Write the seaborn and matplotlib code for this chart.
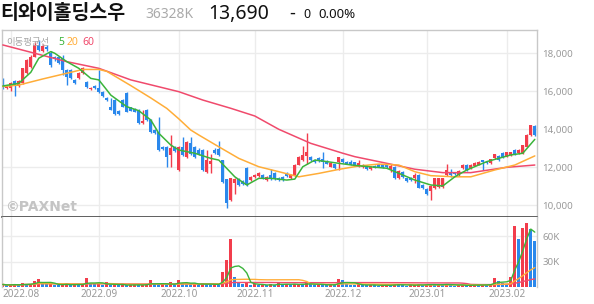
import numpy as np
import pandas as pd
import matplotlib
matplotlib.use("Agg")
import matplotlib.pyplot as plt
import seaborn as sns

sns.set_theme(style="white")
plt.rcParams['font.family'] = ['Noto Sans', 'Noto Sans CJK KR', 'DejaVu Sans']

# ---------------- data ----------------
stock_name = "티와이홀딩스우"
volume_text = "36328K"
last_price = "13,690"
change_text = "0"
change_pct = "0.00%"
ma_title = "이동평균선"
ma_labels = ["5", "20", "60"]

holidays = ["2022-08-15", "2022-09-09", "2022-09-12", "2022-10-03", "2022-10-10",
            "2022-12-30", "2023-01-23", "2023-01-24"]
dates = pd.bdate_range("2022-07-28", "2023-02-10")
dates = dates[~dates.isin(pd.to_datetime(holidays))]

opens = [16600, 16160, 16200, 16550, 16300, 16420, 16950, 17300, 17820, 18440,
         18100, 18350, 18000, 17800, 17800, 17740, 17120, 17120, 16600, 16700,
         16960, 16500, 16100, 16300, 16180, 15950, 15650, 15190, 15540, 14950,
         15540, 15900, 15150, 15080, 15020, 14350, 15020, 14490, 13960, 13880,
         13080, 13050, 12650, 13050, 11860, 13080, 12560, 13300, 13080, 12900,
         12910, 11770, 12200, 12900, 12950, 12380, 11380, 10280, 11160, 11380,
         11300, 11980, 11330, 11480, 11540, 11600, 11330, 11620, 11680, 11460,
         11500, 11720, 11440, 11600, 12120, 12380, 12600, 12560, 12380, 12500,
         12450, 12350, 12030, 12150, 12300, 12450, 12300, 12280, 12280, 12030,
         12000, 12070, 11900, 12050, 12150, 12180, 12100, 11900, 12030, 11420,
         11770, 11420, 11450, 11420, 11600, 11070, 10850, 10770, 10900, 10960,
         10960, 11600, 11700, 11720, 11600, 11950, 12120, 11950, 12070, 12120,
         12380, 12300, 12210, 12470, 12600, 12740, 12560, 12650, 12900, 12740,
         12740, 13090, 13700, 14180]
closes = [16160, 16300, 16450, 16330, 16550, 17210, 17650, 17800, 18440, 18170,
          18400, 18200, 17380, 17700, 17500, 17120, 16770, 16700, 16450, 16960,
          17230, 16240, 16200, 16150, 15950, 15750, 15540, 15020, 14800, 14800,
          15190, 14930, 14980, 14930, 14350, 14440, 14490, 13840, 13800, 12910,
          12960, 12560, 13000, 12850, 13080, 12650, 13350, 12700, 12560, 12700,
          11860, 12380, 12320, 12750, 12650, 11240, 10100, 11420, 11380, 11070,
          11120, 11070, 11500, 11600, 11720, 11430, 11500, 11400, 11400, 11330,
          11330, 11540, 11600, 12120, 12560, 12650, 12800, 12380, 12300, 12330,
          12300, 12200, 12210, 11950, 12530, 12300, 12200, 12120, 12120, 12210,
          12100, 11900, 12000, 11980, 12030, 12000, 12000, 12070, 11420, 11820,
          11500, 11300, 11330, 11600, 10930, 10900, 10580, 11020, 11420, 11420,
          11420, 11860, 11600, 11650, 11830, 12120, 11860, 12120, 12250, 12300,
          12300, 12210, 12430, 12680, 12380, 12560, 12780, 12780, 12700, 12900,
          13170, 13700, 14230, 13690]
highs = [16700, 16350, 16500, 16600, 16600, 17250, 17700, 17900, 18600, 18700,
         18500, 18450, 18100, 17850, 17850, 17900, 17150, 17150, 16650, 17000,
         17280, 16550, 16250, 16350, 17100, 16000, 15700, 15650, 15600, 15000,
         15600, 15950, 15200, 15100, 15050, 15020, 15050, 14550, 14000, 14650,
         13100, 13100, 13700, 13100, 13100, 13600, 13400, 13600, 13100, 13000,
         12950, 12900, 12700, 13000, 13400, 12400, 11400, 11450, 11420, 11420,
         11350, 12000, 11550, 11650, 11750, 11650, 11550, 11900, 11750, 11500,
         11550, 11750, 11650, 12150, 12600, 13100, 13800, 12600, 12420, 12550,
         12820, 12400, 12250, 12200, 12560, 12500, 12350, 12400, 12300, 12400,
         12150, 12100, 12050, 12100, 12200, 12200, 12150, 12200, 12050, 11850,
         11800, 11450, 11500, 11700, 11650, 11100, 10900, 11050, 11450, 11450,
         11450, 12150, 11900, 11750, 11850, 12150, 12150, 12150, 12300, 12350,
         12400, 12350, 12450, 12700, 12650, 12780, 12800, 12800, 12950, 12950,
         13200, 13750, 14250, 14250]
lows = [16100, 16100, 16000, 15750, 16250, 16400, 16900, 17250, 17800, 18100,
        18050, 18100, 17300, 17600, 17450, 16860, 16330, 16650, 16400, 16650,
        16900, 16200, 16050, 16100, 15900, 15700, 15500, 15000, 14750, 14750,
        15150, 14900, 14950, 14900, 14300, 14300, 14450, 13800, 13750, 12880,
        12900, 12030, 12030, 12800, 11800, 12600, 12500, 12650, 12500, 12650,
        11800, 11700, 11700, 12700, 12600, 11200, 9870, 10250, 10600, 11000,
        11050, 11000, 11300, 11450, 11500, 11400, 11300, 11350, 11350, 11300,
        11300, 11500, 11400, 11550, 12100, 12350, 12200, 12350, 12250, 12300,
        11950, 12150, 12000, 11900, 11860, 12250, 12150, 12100, 12050, 12000,
        11950, 11850, 11850, 11950, 12000, 11950, 11950, 11750, 11400, 11400,
        11450, 11250, 11300, 11200, 10900, 10850, 10550, 10300, 10850, 10900,
        10900, 11550, 11500, 11600, 11550, 11900, 11800, 11900, 12050, 12100,
        11860, 12150, 12150, 12450, 12350, 12500, 12550, 12600, 12650, 12700,
        12700, 13050, 13650, 13650]
volumes = [3000, 2000, 2500, 3500, 2000, 4300, 3000, 3500, 7000, 9400,
           3500, 3000, 4000, 2500, 2000, 2500, 4500, 2000, 3000, 2000,
           3500, 11000, 4000, 3000, 3500, 2500, 5500, 2000, 2500, 2000,
           3000, 2000, 2500, 3000, 2000, 2500, 3000, 8000, 3000, 2500,
           3000, 2500, 6000, 3000, 8000, 5000, 3500, 3000, 3500, 2500,
           5000, 4000, 2000, 2500, 2000, 18000, 32000, 57000, 12000, 5000,
           3500, 5000, 2500, 3000, 2000, 2500, 2000, 3000, 2500, 6000,
           2000, 3000, 2500, 3500, 4000, 3000, 4500, 3000, 2500, 3000,
           2500, 2000, 3000, 2500, 9500, 8000, 3000, 2500, 2000, 3000,
           2500, 2000, 2500, 2000, 1500, 2000, 2500, 2000, 4000, 2500,
           2000, 1500, 2000, 2500, 4000, 2000, 2500, 3000, 2500, 3000,
           2500, 4000, 2000, 1500, 2000, 2500, 2000, 2000, 2500, 2000,
           3000, 2500, 3500, 11000, 7000, 5000, 4000, 12000, 72000, 57000,
           69000, 75000, 68000, 54000]

# moving averages (trading-day number, price)
ma5_day = [0, 4, 7, 9, 12, 13, 16, 19, 22, 24, 26, 27, 31, 34, 37, 39, 42, 44, 48, 52,
           54, 58, 61, 64, 67, 71, 73, 75, 78, 81, 84, 88, 96, 103, 107, 110, 113, 116,
           121, 127, 130, 133]
ma5_val = [16280, 16420, 17000, 17740, 18090, 18000, 17560, 17210, 16680, 16600, 16070,
           15800, 15190, 14980, 14490, 13790, 13170, 12910, 12740, 12470, 12380, 11500,
           11070, 11420, 11420, 11330, 11380, 12030, 12380, 12300, 12210, 12100, 11950,
           11330, 11070, 11020, 11500, 11860, 12300, 12650, 12740, 13470]
ma20_day = [0, 4, 10, 15, 20, 24, 26, 28, 32, 37, 41, 44, 47, 49, 54, 59, 64, 69, 74, 79,
            84, 89, 94, 99, 103, 107, 113, 117, 123, 128, 133]
ma20_val = [16250, 16330, 16650, 16900, 17150, 17150, 17050, 16800, 16300, 15650, 15100,
            14550, 13960, 13700, 13080, 12470, 12030, 11770, 11500, 11680, 11890, 12070,
            12170, 12120, 11770, 11560, 11500, 11500, 11860, 12120, 12600]
ma60_day = [0, 8, 16, 24, 32, 44, 50, 57, 63, 69, 77, 85, 88, 96, 103, 110, 117, 126, 133]
ma60_val = [18440, 18000, 17560, 17210, 16600, 15980, 15540, 15105, 14700, 14000, 13260,
            12740, 12560, 12210, 11900, 11720, 11720, 12000, 12120]

price_ticks = [10000, 12000, 14000, 16000, 18000]
vol_ticks = [30000, 60000]
vol_tick_labels = ["30K", "60K"]

# ---------------- styling ----------------
RED = "#f23d4c"
BLUE = "#2a88ec"
GREEN = "#3bb43b"
ORANGE = "#ffad38"
PINK = "#f04a6c"
GRID = "#ececec"
TXT = "#9a9a9a"

W, H = 594, 304
fig = plt.figure(figsize=(W / 100, H / 100), dpi=100)
fig.patch.set_facecolor("white")


def fx(px):
    return px / W


def fy(py):
    return 1 - py / H


L, R, T, MID, B = 2, 537, 30, 217, 287
ax = fig.add_axes([fx(L), fy(MID), (R - L) / W, (MID - T) / H])
axv = fig.add_axes([fx(L), fy(B), (R - L) / W, (B - MID) / H], sharex=ax)

n = len(closes)
x = np.arange(n)
o = np.array(opens, float)
c = np.array(closes, float)
hi = np.array(highs, float)
lo = np.array(lows, float)
v = np.array(volumes, float)

month_start = pd.Series(np.arange(n), index=dates).groupby([dates.year, dates.month]).first()
tick_pos = month_start.values[1:]
tick_lab = [dates[p].strftime("%Y.%m") for p in tick_pos]

xl = (-0.2, n - 0.45)

# grid
for a in (ax, axv):
    for p in tick_pos:
        a.axvline(p, color=GRID, lw=1, zorder=0)
for t in price_ticks:
    ax.axhline(t, color=GRID, lw=1, zorder=0)
for t in vol_ticks:
    axv.axhline(t, color=GRID, lw=1, zorder=0)

# candles
up = c >= o
ccol = np.where(up, RED, BLUE)
ax.vlines(x, lo, hi, colors=ccol, lw=1, zorder=2)
body = np.maximum(np.abs(c - o), 45)
ax.bar(x, body, bottom=np.minimum(o, c), width=0.75, color=ccol, linewidth=0, zorder=2)

# moving averages
sns.lineplot(x=ma60_day, y=ma60_val, ax=ax, color=PINK, lw=1.1, zorder=3)
sns.lineplot(x=ma20_day, y=ma20_val, ax=ax, color=ORANGE, lw=1.1, zorder=3)
sns.lineplot(x=ma5_day, y=ma5_val, ax=ax, color=GREEN, lw=1.1, zorder=3)

ax.set_xlim(*xl)
ax.set_ylim(9385, 19226)
ax.set_xlabel("")
ax.set_ylabel("")
ax.yaxis.tick_right()
ax.set_yticks(price_ticks)
ax.set_yticklabels([f"{t:,}" for t in price_ticks])
ax.tick_params(axis="y", length=0, pad=4, labelsize=7, labelcolor=TXT)
ax.tick_params(axis="x", length=0, labelbottom=False)
ax.set_xticks([])
for s in ("left", "top", "right"):
    ax.spines[s].set_color("#c8c8c8")
    ax.spines[s].set_linewidth(1)
ax.spines["bottom"].set_color("#444444")
ax.spines["bottom"].set_linewidth(1.2)

# volume
vcol = np.where(np.concatenate([[True], v[1:] >= v[:-1]]), RED, BLUE)
axv.bar(x, v, width=0.75, color=vcol, linewidth=0, zorder=2)
vs = pd.Series(v)
sns.lineplot(x=x, y=vs.rolling(60, min_periods=1).mean().values, ax=axv, color=PINK, lw=1, zorder=3)
sns.lineplot(x=x, y=vs.rolling(20, min_periods=1).mean().values, ax=axv, color=ORANGE, lw=1, zorder=3)
sns.lineplot(x=x, y=vs.rolling(5, min_periods=1).mean().values, ax=axv, color=GREEN, lw=1, zorder=3)
axv.set_xlim(*xl)
axv.set_ylim(0, 82400)
axv.set_xlabel("")
axv.set_ylabel("")
axv.yaxis.tick_right()
axv.set_yticks(vol_ticks)
axv.set_yticklabels(vol_tick_labels)
axv.tick_params(axis="y", length=0, pad=4, labelsize=7, labelcolor=TXT)
axv.set_xticks([])
axv.spines["top"].set_visible(False)
axv.spines["bottom"].set_visible(False)
for s in ("left", "right"):
    axv.spines[s].set_color("#c8c8c8")
    axv.spines[s].set_linewidth(1)

# x labels (drawn just under the volume panel)
for i, (p, lab) in enumerate(zip(tick_pos, tick_lab)):
    xp = xl[0] + 0.1 if i == 0 else p
    axv.text(xp, -0.035, lab, transform=axv.get_xaxis_transform(),
             ha="left" if i == 0 else "center", va="top", fontsize=7.2, color=TXT)

# header texts
fig.text(fx(0), fy(19), stock_name, fontsize=14, color="#111111", fontweight="bold",
         va="baseline", ha="left", family=["Noto Sans CJK KR"])
fig.text(fx(145), fy(18.5), volume_text, fontsize=10, color="#aaaaaa", va="baseline", ha="left")
fig.text(fx(208), fy(18.5), last_price, fontsize=14, color="#111111", va="baseline", ha="left")
fig.text(fx(289), fy(18.5), "-", fontsize=13, color="#111111", va="baseline", ha="left",
         fontweight="bold")
fig.text(fx(303), fy(18.5), change_text, fontsize=9, color="#111111", va="baseline", ha="left")
fig.text(fx(318), fy(18.5), change_pct, fontsize=9.5, color="#111111", va="baseline", ha="left")

# MA legend
fig.text(fx(6), fy(45), ma_title, fontsize=6.8, color="#a8a8a8", va="baseline", ha="left",
         family=["Noto Sans CJK KR"])
for lab, col, px in zip(ma_labels, [GREEN, ORANGE, PINK], [58, 67, 82]):
    fig.text(fx(px), fy(45), lab, fontsize=7.5, color=col, va="baseline", ha="left")

# watermark
fig.text(fx(5), fy(211), "©PAXNet", fontsize=10, color="#c4c4c4", fontweight="bold",
         va="baseline", ha="left", family=["DejaVu Sans"])

fig.savefig("out.png", dpi=100, facecolor="white")
